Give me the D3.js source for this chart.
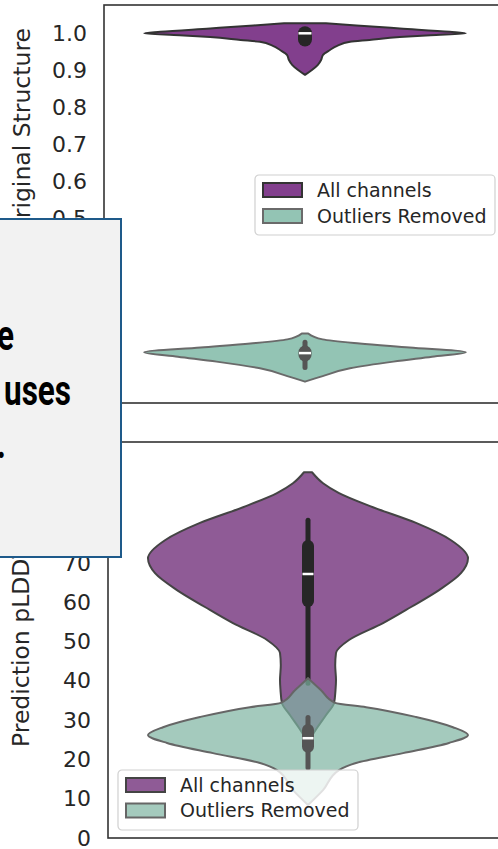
<!DOCTYPE html>
<html>
<head>
<meta charset="utf-8">
<script src="https://cdn.jsdelivr.net/npm/d3@7.9.0/dist/d3.min.js"></script>
<style>
  html, body { margin: 0; padding: 0; background: #fff; overflow: hidden; }
  svg { display: block; font-family: "DejaVu Sans", sans-serif; }
</style>
</head>
<body>
<svg id="chart" width="498" height="849"></svg>
<script>
// ---- data ----
const seriesNames = ['All channels', 'Outliers Removed'];

// top panel (similarity to original structure); lower ticks sit under the caption box
const topTicks = [0.5, 0.6, 0.7, 0.8, 0.9, 1.0];
const topAllVals = [1.027, 1.021, 1.013, 1.004, 1.0, 0.995, 0.99, 0.982, 0.977, 0.966, 0.955, 0.942, 0.928, 0.915, 0.901, 0.888];
const topAllDens = [0.13, 0.32, 0.59, 0.9, 1.0, 0.78, 0.59, 0.4, 0.28, 0.2, 0.155, 0.112, 0.1, 0.08, 0.043, 0.0];
const topAllStats = [0.975, 0.983, 1.0, 1.0, 1.0];   // whisker lo, q1, median, q3, whisker hi
const topOutVals = [0.191, 0.175, 0.164, 0.153, 0.14, 0.128, 0.115, 0.097, 0.076, 0.061];
const topOutDens = [0.02, 0.11, 0.34, 0.65, 1.0, 0.79, 0.55, 0.28, 0.11, 0.0];
const topOutStats = [0.099, 0.133, 0.138, 0.141, 0.167];

// bottom panel (prediction pLDDT); 80-100 sit under the caption box
const botTicks = [0, 10, 20, 30, 40, 50, 60, 70];
const botAllVals = [93.1, 90.3, 87.8, 84.2, 80.2, 75.8, 71.2, 67.4, 63.1, 58.8, 54.7, 50.4, 47.1, 44.0, 40.2, 37.7, 34.4, 31.3, 28.0, 24.4];
const botAllDens = [0.025, 0.094, 0.194, 0.406, 0.675, 0.894, 1.0, 0.956, 0.819, 0.644, 0.469, 0.256, 0.175, 0.17, 0.175, 0.172, 0.163, 0.113, 0.056, 0.0];
const botAllStats = [39.4, 60.3, 67.2, 74.3, 80.9];
const botOutVals = [40.7, 37.7, 34.4, 33.3, 30.8, 28.2, 26.2, 24.2, 21.6, 19.1, 17.3, 12.2, 8.4];
const botOutDens = [0.0, 0.08, 0.169, 0.363, 0.675, 0.906, 1.0, 0.881, 0.594, 0.3, 0.194, 0.094, 0.0];
const botOutStats = [17.9, 23.2, 25.4, 27.5, 30.7];

// ---- drawing ----
const svg = d3.select('#chart');
const halfWidth = 0.4;

function drawPanel(cfg) {
  const x = d3.scaleLinear().domain([-0.5, 0.5]).range([cfg.left, cfg.right]);
  const y = d3.scaleLinear().domain(cfg.domain).range([cfg.bottom, cfg.top]);
  const g = svg.append('g');

  const yAxis = d3.axisLeft(y)
    .tickValues(cfg.ticks)
    .tickSize(0)
    .tickPadding(cfg.pad)
    .tickFormat(cfg.fmt);
  const ax = g.append('g').attr('transform', `translate(${cfg.left},0)`).call(yAxis);
  ax.select('.domain').remove();
  ax.selectAll('text').attr('font-size', 22).attr('fill', '#262626')
    .attr('font-family', '"DejaVu Sans", sans-serif');

  g.append('text')
    .attr('transform', `translate(${cfg.labelX},${cfg.labelY}) rotate(-90)`)
    .attr('text-anchor', cfg.labelAnchor)
    .attr('font-size', 23.5)
    .attr('fill', '#262626')
    .text(cfg.label);

  cfg.series.forEach(s => {
    const pts = s.vals.map((v, i) => ({ v, w: s.dens[i] }));
    const area = d3.area()
      .y(d => y(d.v))
      .x0(d => x(-halfWidth * d.w))
      .x1(d => x(halfWidth * d.w))
      .curve(d3.curveMonotoneY);
    g.append('path')
      .attr('d', area(pts))
      .attr('fill', s.fill)
      .attr('fill-opacity', s.opacity)
      .attr('stroke', s.edge)
      .attr('stroke-width', 2)
      .attr('stroke-linejoin', 'round');

    const [lo, q1, med, q3, hi] = s.stats;
    const cx = x(0);
    g.append('line')
      .attr('x1', cx).attr('x2', cx).attr('y1', y(lo)).attr('y2', y(hi))
      .attr('stroke', s.inner).attr('stroke-width', 5).attr('stroke-linecap', 'round');
    g.append('line')
      .attr('x1', cx).attr('x2', cx).attr('y1', y(q1)).attr('y2', y(q3))
      .attr('stroke', s.inner).attr('stroke-width', s.boxW).attr('stroke-linecap', 'round');
    g.append('line')
      .attr('x1', cx - s.boxW / 2 + 0.5).attr('x2', cx + s.boxW / 2 - 0.5)
      .attr('y1', y(med)).attr('y2', y(med))
      .attr('stroke', '#fff').attr('stroke-width', 2.5);
  });

  // frame
  g.append('rect')
    .attr('x', cfg.left).attr('y', cfg.top)
    .attr('width', cfg.right - cfg.left).attr('height', cfg.bottom - cfg.top)
    .attr('fill', 'none').attr('stroke', '#333').attr('stroke-width', 1.6);

  // legend
  const lg = g.append('g').attr('transform', `translate(${cfg.legX},${cfg.legY})`);
  lg.append('rect')
    .attr('width', 240).attr('height', 60).attr('rx', 4)
    .attr('fill', '#fff').attr('fill-opacity', 0.8)
    .attr('stroke', '#d0d0d0').attr('stroke-width', 1.2);
  cfg.series.forEach((s, i) => {
    lg.append('rect')
      .attr('x', 8).attr('y', 8 + i * cfg.legStep)
      .attr('width', 39).attr('height', 14)
      .attr('fill', s.fill).attr('fill-opacity', s.opacity)
      .attr('stroke', s.edge).attr('stroke-width', 2);
    lg.append('text')
      .attr('x', 62).attr('y', 15 + i * cfg.legStep)
      .attr('dy', '0.35em')
      .attr('font-size', 19)
      .attr('fill', '#262626')
      .text(seriesNames[i]);
  });
}

drawPanel({
  left: 104, right: 506, top: 5, bottom: 403,
  domain: [0.0035, 1.0763], ticks: topTicks, fmt: d3.format('.1f'), pad: 17,
  label: 'Original Structure', labelX: 30, labelY: 28, labelAnchor: 'end',
  legX: 255, legY: 175, legStep: 26,
  series: [
    { vals: topAllVals, dens: topAllDens, stats: topAllStats, fill: '#823f8d', opacity: 1, edge: '#333', inner: '#262626', boxW: 14 },
    { vals: topOutVals, dens: topOutDens, stats: topOutStats, fill: '#93c4b4', opacity: 1, edge: '#6a6a6a', inner: '#555', boxW: 13 }
  ]
});

drawPanel({
  left: 108, right: 508, top: 442, bottom: 838,
  domain: [0, 100.8], ticks: botTicks, fmt: d3.format('d'), pad: 17,
  label: 'Prediction pLDDT', labelX: 29, labelY: 747, labelAnchor: 'start',
  legX: 118, legY: 770, legStep: 25.5,
  series: [
    { vals: botAllVals, dens: botAllDens, stats: botAllStats, fill: '#8f5b96', opacity: 1, edge: '#444', inner: '#262626', boxW: 12 },
    { vals: botOutVals, dens: botOutDens, stats: botOutStats, fill: '#7db3a1', opacity: 0.7, edge: '#666', inner: '#555', boxW: 12 }
  ]
});

// overlaid caption box (partly outside the picture)
const note = svg.append('g');
note.append('rect')
  .attr('x', -3).attr('y', 219).attr('width', 124).attr('height', 338)
  .attr('fill', '#f2f2f2').attr('stroke', '#1e5a8a').attr('stroke-width', 2);
const noteLines = [['e', 14, 350], ['uses', 71, 405], ['.', 6, 458]];
noteLines.forEach(([t, nx, ny]) => {
  note.append('text')
    .attr('transform', `translate(${nx},${ny}) scale(1.05,1.4)`)
    .attr('text-anchor', 'end')
    .attr('font-family', 'Roboto, sans-serif')
    .attr('font-weight', 700)
    .attr('font-size', 30)
    .attr('fill', '#000')
    .text(t);
});
</script>
</body>
</html>
